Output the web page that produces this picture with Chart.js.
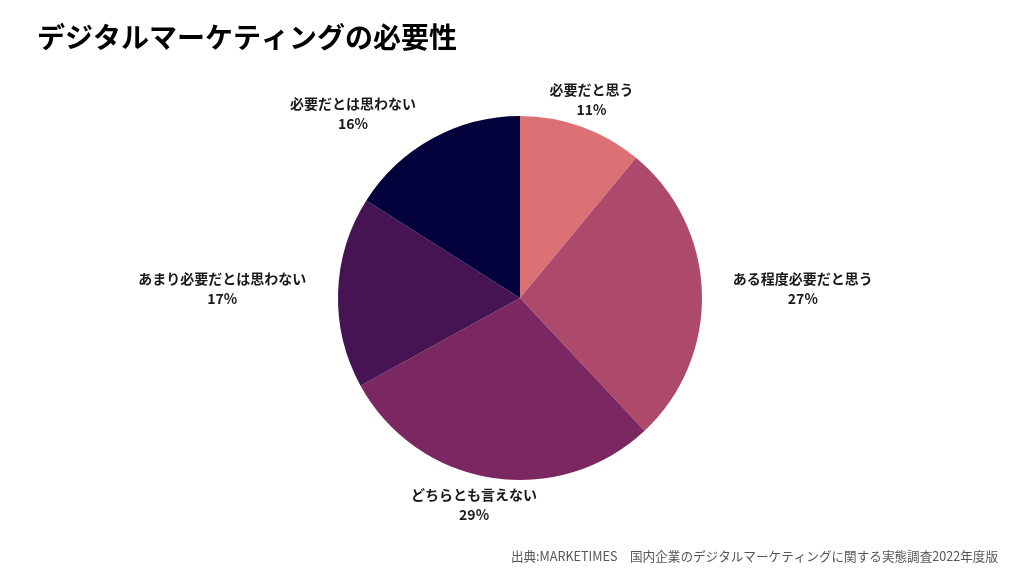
<!DOCTYPE html>
<html>
<head>
<meta charset="utf-8">
<script src="https://cdn.jsdelivr.net/npm/chart.js@4.4.1/dist/chart.umd.min.js"></script>
<style>
  html, body { margin: 0; padding: 0; background: #fff; }
  #wrap { width: 1024px; height: 576px; position: relative; }
</style>
</head>
<body>
<div id="wrap"><canvas id="pieChart" width="1024" height="576"></canvas></div>
<script>
// data
var labels = ["必要だと思う", "ある程度必要だと思う", "どちらとも言えない", "あまり必要だとは思わない", "必要だとは思わない"];
var values = [11, 27, 29, 17, 16];
var colors = ["#DB7075", "#AD4A6B", "#7B2761", "#461453", "#03023D"];
var titleText = "デジタルマーケティングの必要性";
var sourceText = "出典:MARKETIMES　国内企業のデジタルマーケティングに関する実態調査2022年度版";

// label placement (distance from center, angle shift in degrees)
var labelDist = [211, 283, 212, 298, 249];
var labelShift = [0, 0, 3.5, 0, -13.3];

var fontJP = "'Noto Sans CJK JP', 'Noto Sans', sans-serif";

var textPlugin = {
    id: "textPlugin",
    afterDraw: function(chart) {
        var c = chart.ctx;
        c.save();
        // title
        c.fillStyle = "#000";
        c.font = "bold 28px " + fontJP;
        c.textAlign = "left";
        c.textBaseline = "middle";
        c.fillText(titleText, 37, 37);

        // slice labels
        var meta = chart.getDatasetMeta(0);
        c.font = "bold 14px " + fontJP;
        c.textAlign = "center";
        c.fillStyle = "#1a1a1a";
        meta.data.forEach(function(arc, i) {
            var mid = (arc.startAngle + arc.endAngle) / 2 + labelShift[i] * Math.PI / 180;
            var x = arc.x + Math.cos(mid) * labelDist[i];
            var y = arc.y + Math.sin(mid) * labelDist[i];
            c.fillText(labels[i], x, y - 10);
            c.fillText(values[i] + "%", x, y + 10);
        });

        // source
        c.font = "12.6px " + fontJP;
        c.fillStyle = "#555";
        c.textAlign = "right";
        c.fillText(sourceText, 998, 556);
        c.restore();
    }
};

var ctx = document.getElementById("pieChart").getContext("2d");
var chart = new Chart(ctx, {
    type: "pie",
    data: {
        labels: labels,
        datasets: [{
            data: values,
            backgroundColor: colors,
            borderWidth: 0
        }]
    },
    options: {
        responsive: false,
        animation: false,
        layout: {
            padding: { left: 338, right: 322, top: 116, bottom: 96 }
        },
        plugins: {
            legend: { display: false },
            tooltip: { enabled: false },
            title: { display: false }
        }
    },
    plugins: [textPlugin]
});
</script>
</body>
</html>
